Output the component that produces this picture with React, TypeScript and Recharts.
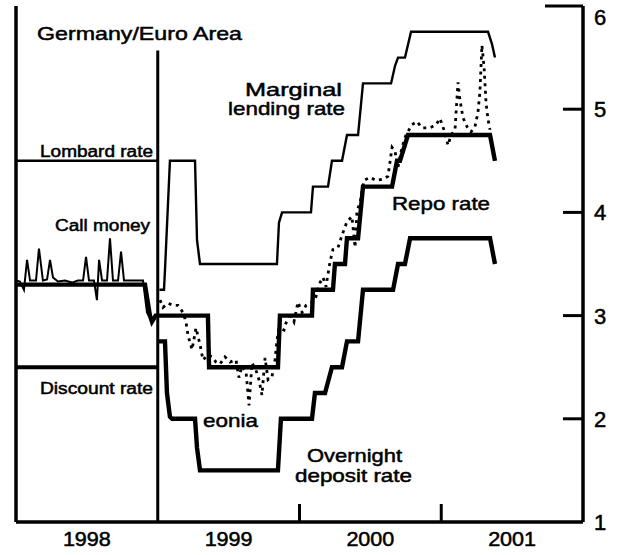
import React from "react";
import { LineChart, Line, XAxis, YAxis, ReferenceLine } from "recharts";

type Pt = [number, number];

// Bundesbank rates in 1998
const lombardRate: Pt[] = [[1998, 4.5], [1999, 4.5]];
const discountRate: Pt[] = [[1998, 2.5], [1999, 2.5]];
const callMoney: Pt[] = [
  [1998.0, 3.34], [1998.028, 3.33], [1998.056, 3.25], [1998.078, 3.54], [1998.099, 3.34],
  [1998.141, 3.34], [1998.162, 3.65], [1998.19, 3.34], [1998.219, 3.35], [1998.24, 3.54],
  [1998.261, 3.37], [1998.296, 3.33], [1998.346, 3.34], [1998.395, 3.32], [1998.437, 3.34],
  [1998.473, 3.34], [1998.494, 3.57], [1998.515, 3.34], [1998.55, 3.34], [1998.571, 3.15],
  [1998.586, 3.54], [1998.607, 3.34], [1998.642, 3.34], [1998.663, 3.75], [1998.684, 3.34],
  [1998.72, 3.34], [1998.741, 3.62], [1998.762, 3.34], [1998.804, 3.34], [1998.896, 3.34],
  [1998.924, 3.03], [1998.959, 2.94], [1998.981, 3.0], [1999.0, 2.98]
];

// repo rate (Bundesbank, then ECB main refinancing)
const repoRate: Pt[] = [
  [1998, 3.3], [1998.91, 3.3], [1998.945, 3.0], [1998.959, 2.94], [1998.985, 3.0],
  [1999.354, 3.0], [1999.362, 2.5], [1999.848, 2.5], [1999.862, 3.0], [2000.088, 3.0],
  [2000.095, 3.25], [2000.236, 3.25], [2000.25, 3.5], [2000.321, 3.5], [2000.335, 3.75],
  [2000.413, 3.75], [2000.448, 4.25], [2000.653, 4.25], [2000.688, 4.5], [2000.709, 4.5],
  [2000.765, 4.75], [2001.344, 4.75], [2001.379, 4.5]
];

const marginalLending: Pt[] = [
  [1999.012, 3.25], [1999.044, 3.25], [1999.051, 3.44], [1999.086, 4.5], [1999.263, 4.5],
  [1999.277, 3.73], [1999.298, 3.5], [1999.841, 3.5], [1999.855, 3.9], [1999.877, 4.0],
  [2000.081, 4.0], [2000.095, 4.25], [2000.201, 4.25], [2000.229, 4.5], [2000.3, 4.5],
  [2000.335, 4.75], [2000.413, 4.75], [2000.448, 5.25], [2000.646, 5.25], [2000.674, 5.42],
  [2000.695, 5.5], [2000.744, 5.5], [2000.787, 5.75], [2001.33, 5.75], [2001.358, 5.63],
  [2001.379, 5.5]
];

const depositRate: Pt[] = [
  [1999.008, 2.75], [1999.051, 2.75], [1999.065, 2.25], [1999.086, 2.02], [1999.101, 2.0],
  [1999.263, 2.0], [1999.277, 1.72], [1999.298, 1.5], [1999.848, 1.5], [1999.869, 2.0],
  [2000.088, 2.0], [2000.109, 2.25], [2000.18, 2.25], [2000.229, 2.5], [2000.3, 2.5],
  [2000.335, 2.75], [2000.413, 2.75], [2000.448, 3.25], [2000.66, 3.25], [2000.695, 3.5],
  [2000.744, 3.5], [2000.78, 3.75], [2001.344, 3.75], [2001.379, 3.5]
];

const eonia: Pt[] = [
  [1999.016, 3.15], [1999.037, 3.08], [1999.072, 3.12], [1999.108, 3.1], [1999.143, 3.1],
  [1999.178, 3.03], [1999.199, 2.94], [1999.213, 2.81], [1999.242, 2.67], [1999.27, 2.88],
  [1999.298, 2.72], [1999.319, 2.57], [1999.354, 2.62], [1999.383, 2.6], [1999.411, 2.55],
  [1999.439, 2.53], [1999.474, 2.6], [1999.51, 2.55], [1999.552, 2.57], [1999.573, 2.4],
  [1999.594, 2.51], [1999.623, 2.45], [1999.644, 2.13], [1999.665, 2.54], [1999.693, 2.47],
  [1999.714, 2.38], [1999.735, 2.23], [1999.757, 2.59], [1999.778, 2.38], [1999.806, 2.41],
  [1999.827, 2.57], [1999.841, 2.76], [1999.855, 2.88], [1999.891, 2.86], [1999.926, 3.03],
  [1999.961, 2.94], [1999.989, 3.13], [2000.018, 3.03], [2000.046, 3.1], [2000.074, 3.12],
  [2000.109, 3.15], [2000.145, 3.32], [2000.166, 3.37], [2000.187, 3.28], [2000.215, 3.52],
  [2000.236, 3.64], [2000.272, 3.66], [2000.3, 3.78], [2000.335, 3.91], [2000.37, 3.96],
  [2000.392, 3.66], [2000.406, 4.02], [2000.427, 4.09], [2000.455, 4.31], [2000.497, 4.34],
  [2000.54, 4.31], [2000.582, 4.32], [2000.624, 4.35], [2000.653, 4.63], [2000.674, 4.59],
  [2000.695, 4.44], [2000.723, 4.63], [2000.751, 4.75], [2000.794, 4.85], [2000.829, 4.88],
  [2000.864, 4.82], [2000.921, 4.82], [2000.963, 4.85], [2000.991, 4.91], [2001.019, 4.8],
  [2001.048, 4.65], [2001.069, 4.75], [2001.097, 4.8], [2001.118, 5.26], [2001.132, 5.09],
  [2001.153, 4.92], [2001.182, 4.83], [2001.21, 4.78], [2001.238, 4.83], [2001.259, 4.97],
  [2001.273, 5.17], [2001.287, 5.62], [2001.302, 5.41], [2001.316, 5.06], [2001.33, 4.9],
  [2001.344, 4.8]
];

const yearTicks = [1998.5, 1999.5, 2000, 2000.5, 2001, 2001.5];
const rateTicks = [1, 2, 3, 4, 5, 6];
const euroStart = 1999;
const euroLineTop = 5.57;

const toRows = (pts: Pt[]) => pts.map(([d, v]) => ({ d, v }));

const FONT = "'Liberation Sans', Arial, Helvetica, sans-serif";

const labels = [
  { text: "Germany/Euro Area", x: 37, y: 40, size: 19, len: 205 },
  { text: "Marginal", x: 245, y: 96, size: 19, len: 97 },
  { text: "lending rate", x: 228, y: 115, size: 19, len: 117 },
  { text: "Lombard rate", x: 40, y: 157, size: 16, len: 113 },
  { text: "Call money", x: 55, y: 231, size: 16, len: 95 },
  { text: "Discount rate", x: 40, y: 394, size: 16, len: 113 },
  { text: "eonia", x: 203, y: 427, size: 19, len: 55 },
  { text: "Repo rate", x: 392, y: 210, size: 19, len: 98 },
  { text: "Overnight", x: 307, y: 462, size: 19, len: 95 },
  { text: "deposit rate", x: 295, y: 482, size: 19, len: 117 }
];

const textInk = { fill: "#000", stroke: "#000", strokeWidth: 0.5 };

function XTick(props: any) {
  const { x, y, payload } = props;
  const v = payload.value as number;
  if (Number.isInteger(v)) {
    return <line x1={x} x2={x} y1={y} y2={y - 18} stroke="#000" strokeWidth={3} />;
  }
  return (
    <text x={x} y={y + 24} textAnchor="middle" fontFamily={FONT} fontSize={20} {...textInk}
      textLength={48} lengthAdjust="spacingAndGlyphs">
      {Math.floor(v)}
    </text>
  );
}

function LeftTick(props: any) {
  const { x, y, payload } = props;
  if (payload.value === 1) return null;
  const len = payload.value === 6 ? 39 : 19;
  return <line x1={x} x2={x + len} y1={y} y2={y} stroke="#000" strokeWidth={3} />;
}

function RightTick(props: any) {
  const { x, y, payload } = props;
  const v = payload.value as number;
  const len = v === 6 ? 38 : 20;
  return (
    <g>
      {v !== 1 && <line x1={x - len} x2={x} y1={y} y2={y} stroke="#000" strokeWidth={3} />}
      <text x={x + 11} y={Math.max(y, 17)} dy="0.36em" fontFamily={FONT} fontSize={22} {...textInk}>
        {v}
      </text>
    </g>
  );
}

const axisStroke = { stroke: "#000", strokeWidth: 3.5 };

export default function App() {
  return (
    <div style={{ position: "absolute", left: 0, top: 0, width: 624, height: 555, background: "#fff" }}>
      <LineChart width={624} height={555} margin={{ top: 6, right: 5, bottom: 5, left: 6 }}>
        <XAxis
          dataKey="d"
          type="number"
          domain={[1998, 2002]}
          allowDataOverflow
          ticks={yearTicks}
          interval={0}
          height={28}
          tickSize={0}
          tickMargin={0}
          tickLine={false}
          axisLine={axisStroke}
          tick={(p: any) => <XTick {...p} />}
        />
        <YAxis
          yAxisId="l"
          orientation="left"
          type="number"
          domain={[1, 6]}
          ticks={rateTicks}
          interval={0}
          width={10}
          tickSize={0}
          tickMargin={0}
          tickLine={false}
          axisLine={axisStroke}
          tick={(p: any) => <LeftTick {...p} />}
        />
        <YAxis
          yAxisId="r"
          orientation="right"
          type="number"
          domain={[1, 6]}
          ticks={rateTicks}
          interval={0}
          width={36}
          tickSize={0}
          tickMargin={0}
          tickLine={false}
          axisLine={axisStroke}
          tick={(p: any) => <RightTick {...p} />}
        />
        <ReferenceLine
          yAxisId="r"
          segment={[{ x: euroStart, y: 1 }, { x: euroStart, y: euroLineTop }]}
          stroke="#000"
          strokeWidth={3}
        />
        <Line yAxisId="r" data={toRows(lombardRate)} dataKey="v" type="linear" stroke="#000"
          strokeWidth={2.4} dot={false} activeDot={false} isAnimationActive={false} />
        <Line yAxisId="r" data={toRows(discountRate)} dataKey="v" type="linear" stroke="#000"
          strokeWidth={4} dot={false} activeDot={false} isAnimationActive={false} />
        <Line yAxisId="r" data={toRows(callMoney)} dataKey="v" type="linear" stroke="#000"
          strokeWidth={2} dot={false} activeDot={false} isAnimationActive={false} />
        <Line yAxisId="r" data={toRows(marginalLending)} dataKey="v" type="linear" stroke="#000"
          strokeWidth={2.4} dot={false} activeDot={false} isAnimationActive={false} />
        <Line yAxisId="r" data={toRows(eonia)} dataKey="v" type="linear" stroke="#000"
          strokeWidth={2.8} strokeDasharray="3 4.5" dot={false} activeDot={false} isAnimationActive={false} />
        <Line yAxisId="r" data={toRows(repoRate)} dataKey="v" type="linear" stroke="#000"
          strokeWidth={4.4} dot={false} activeDot={false} isAnimationActive={false} />
        <Line yAxisId="r" data={toRows(depositRate)} dataKey="v" type="linear" stroke="#000"
          strokeWidth={4.4} dot={false} activeDot={false} isAnimationActive={false} />
      </LineChart>
      <svg width={624} height={555} style={{ position: "absolute", left: 0, top: 0, pointerEvents: "none" }}>
        {labels.map((l) => (
          <text key={l.text} x={l.x} y={l.y} fontFamily={FONT} fontSize={l.size} {...textInk}
            textLength={l.len} lengthAdjust="spacingAndGlyphs">
            {l.text}
          </text>
        ))}
      </svg>
    </div>
  );
}
